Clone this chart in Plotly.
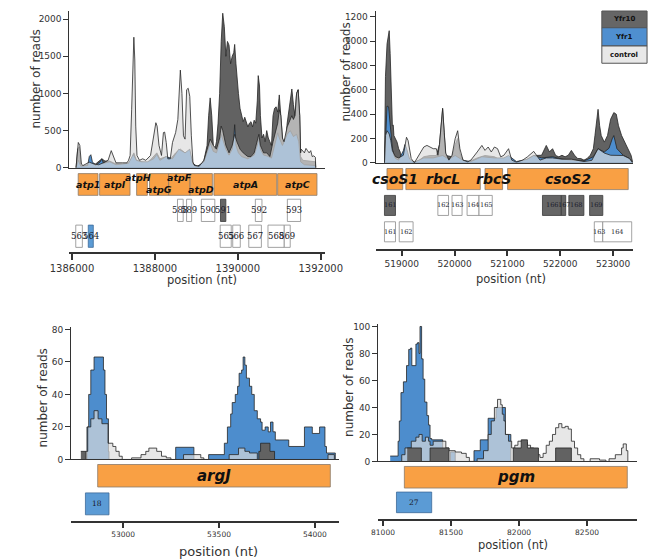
import plotly.graph_objects as go

W, H = 658, 559

# ======================= DATA =======================
# ---- Panel A (atp operon) : coverage ----
p1_ctrl_pos = [1386098,1386121,1386152,1386189,1386227,1386265,1386417,1386530,1386644,1386795,1386871,1386947,1387023,1387061,1387212,1387326,1387364,1387402,1387439,1387492,1387515,1387538,1387568,1387629,1387705,1387780,1387894,1387970,1388023,1388053,1388099,1388159,1388205,1388235,1388273,1388311,1388371,1388424,1388500,1388553,1388591,1388614,1388652,1388689,1388727,1388765,1388803,1388841,1388879,1388917,1388955,1389068,1389182,1389258,1389333,1389409,1389485,1389561,1389599,1389636,1389712,1389788,1389864,1389924,1389977,1390053,1390129,1390242,1390318,1390394,1390470,1390508,1390545,1390621,1390697,1390773,1390849,1390924,1390962,1391000,1391038,1391076,1391114,1391190,1391265,1391303,1391341,1391379,1391417,1391455,1391493,1391515,1391530,1391606,1391644,1391682,1391720,1391758,1391795,1391833,1391871,1391879]
p1_ctrl_val = [0,200,340,300,50,30,75,50,40,75,100,230,120,66,66,66,100,165,780,1757,1450,560,165,100,120,100,165,430,606,560,300,165,473,480,340,120,120,340,473,650,1000,1314,1000,430,385,1050,1070,960,430,75,30,20,100,250,385,300,250,400,560,500,300,200,300,450,350,250,200,150,150,200,350,450,300,200,200,150,350,500,600,780,700,400,350,550,650,700,650,700,1000,1050,700,200,250,200,260,230,200,230,150,160,140,0]

p1_y10_pos = [1386098,1386136,1386174,1386212,1386265,1386455,1386568,1386720,1386795,1386909,1387023,1387212,1387364,1387439,1387492,1387553,1387818,1387970,1388046,1388121,1388273,1388349,1388500,1388614,1388727,1388841,1388917,1388992,1389106,1389182,1389258,1389296,1389333,1389371,1389409,1389447,1389485,1389523,1389561,1389599,1389636,1389674,1389712,1389750,1389788,1389826,1389864,1389902,1389924,1389955,1389977,1390015,1390053,1390091,1390129,1390167,1390205,1390242,1390280,1390318,1390356,1390394,1390432,1390470,1390492,1390523,1390545,1390583,1390621,1390659,1390697,1390735,1390773,1390811,1390849,1390886,1390924,1390962,1391000,1391038,1391076,1391114,1391152,1391190,1391227,1391265,1391303,1391341,1391379,1391417,1391455,1391493,1391515,1391568,1391871,1391879]
p1_y10_val = [0,250,280,50,20,60,50,120,90,90,60,50,60,120,200,100,60,150,200,120,150,100,200,250,200,200,60,20,30,100,300,700,940,700,300,250,350,600,1000,1700,2080,1900,1500,1700,1650,1400,1500,1550,1660,1400,1200,1000,800,700,620,680,620,550,600,620,550,640,600,900,1240,1100,700,400,450,350,500,400,350,300,700,800,820,750,980,700,400,300,350,600,750,900,1060,850,700,1000,1050,700,150,100,80,0]

p1_y1_pos = [1386098,1386152,1386212,1386379,1386417,1386455,1386492,1386568,1386682,1386720,1386758,1386909,1387061,1387364,1387477,1387553,1387667,1387818,1387970,1388046,1388121,1388273,1388424,1388576,1388727,1388841,1388917,1389030,1389182,1389296,1389333,1389409,1389485,1389561,1389599,1389636,1389712,1389788,1389864,1389902,1389924,1389955,1390015,1390091,1390242,1390394,1390470,1390508,1390545,1390621,1390697,1390811,1390924,1390962,1391000,1391076,1391190,1391265,1391341,1391417,1391470,1391515,1391606,1391871,1391879]
p1_y1_val = [0,100,20,30,150,175,80,30,80,120,60,80,40,60,180,100,80,80,120,180,100,150,120,250,200,250,50,20,80,250,330,220,200,350,450,380,250,170,250,400,580,300,200,150,120,170,300,400,250,170,160,130,420,470,400,300,450,500,420,450,350,80,40,30,0]

# ---- Panel A : annotation tracks ----
p1_gene_names = ["atp1", "atpI", "atpH", "atpG", "atpF", "atpD", "atpA", "atpC"]
p1_gene_start = [1386150, 1386666, 1387559, 1387870, 1388332, 1388848, 1389423, 1390961]
p1_gene_end   = [1386627, 1387400, 1387818, 1388332, 1388848, 1389386, 1390939, 1391909]
p1_peak_names = ["588", "589", "590", "591", "592", "593", "563", "564", "565", "566", "567", "568", "569"]
p1_peak_start = [1388545, 1388764, 1389120, 1389582, 1390423, 1391195, 1386091, 1386393, 1389575, 1389877, 1390264, 1390727, 1391120]
p1_peak_end   = [1388682, 1388886, 1389445, 1389711, 1390582, 1391514, 1386250, 1386514, 1389841, 1390059, 1390568, 1391120, 1391264]
p1_peak_row   = [1, 1, 1, 1, 1, 1, 2, 2, 2, 2, 2, 2, 2]
p1_peak_kind  = ["", "", "", "Yfr10", "", "", "", "Yfr1", "", "", "", "", ""]

# ---- Panel B (carboxysome) : coverage ----
p2_ctrl_pos = [518673,518691,518721,518762,518792,518822,518881,518941,519030,519059,519089,519119,519149,519178,519238,519327,519416,519476,519535,519595,519654,519684,519713,519773,519803,519832,519892,519951,520011,520058,520100,520159,520248,520308,520427,520516,520575,520635,520694,520754,520813,520873,520932,520992,521021,521081,521170,521289,521378,521497,521556,521616,521735,521854,522032,522210,522448,522597,522715,522834,522953,523072,523191,523310,523369]
p2_ctrl_val = [0,224,264,237,183,100,50,40,62,143,210,183,89,35,0,60,130,143,130,116,116,62,150,450,250,80,22,62,200,264,116,22,8,22,89,143,102,130,89,130,116,49,62,100,116,22,5,22,49,94,62,22,40,40,30,30,10,20,116,80,62,62,60,35,0]

p2_y10_pos = [518673,518691,518721,518762,518780,518792,518810,518822,518839,518851,518881,518911,518941,518970,518988,519000,519059,519119,519238,519327,519416,519535,519654,519713,519773,519803,519832,519951,520011,520058,520100,520159,520248,520427,520575,520754,520873,520992,521081,521170,521289,521497,521646,521735,521794,521854,521913,521973,522032,522091,522151,522210,522270,522329,522389,522448,522507,522567,522626,522656,522715,522745,522775,522834,522894,522953,523013,523060,523102,523161,523221,523280,523340,523369]
p2_y10_val = [0,709,979,1087,900,709,494,305,310,224,197,170,116,89,35,22,40,20,5,20,50,60,60,150,440,250,60,50,150,200,80,20,5,40,60,50,20,30,10,0,10,60,62,143,90,116,60,49,62,49,62,102,62,35,35,22,35,62,116,224,440,305,224,170,224,359,413,400,305,224,170,116,62,8]

p2_y1_pos = [518673,518703,518721,518750,518774,518792,518822,518851,518881,518941,518970,519030,519059,519089,519149,519238,519416,519595,519773,519892,520011,520159,520308,520516,520754,520932,521021,521170,521378,521497,521646,521854,522032,522270,522448,522626,522715,522834,522923,522983,523013,523072,523191,523310,523369]
p2_y1_val = [0,386,467,460,359,250,116,62,35,22,49,100,150,120,30,5,40,40,60,30,60,20,10,50,40,40,60,10,30,60,40,50,30,20,15,50,116,89,120,197,224,116,62,35,5]

# ---- Panel B : annotation tracks ----
p2_gene_names = ["csoS1", "rbcL", "rbcS", "csoS2"]
p2_gene_start = [518720, 519077, 520575, 521003]
p2_gene_end   = [519018, 520486, 520908, 523286]
p2_peak_names = ["161", "162", "163", "164", "165", "166", "167", "168", "169", "161", "162", "163", "164"]
p2_peak_start = [518672, 519683, 519951, 520236, 520462, 521663, 522020, 522162, 522555, 518672, 518952, 522644, 522804]
p2_peak_end   = [518881, 519885, 520141, 520462, 520712, 522020, 522103, 522447, 522805, 518881, 519214, 522804, 523352]
p2_peak_row   = [1, 1, 1, 1, 1, 1, 1, 1, 1, 2, 2, 2, 2]
p2_peak_kind  = ["Yfr10", "", "", "", "", "Yfr10", "Yfr10", "Yfr10", "Yfr10", "", "", "", ""]

# ---- Panel C (argJ) : coverage (step profiles) ----
p3_y1_pos = [52803,52811,52820,52831,52848,52889,52897,52905,52913,52923,52926,53274,53369,53446,53528,53544,53561,53569,53585,53597,53605,53618,53626,53635,53643,53659,53671,53684,53700,53717,53725,53741,53757,53769,53782,53794,53864,53946,53987,54025,54053,54061,54107]
p3_y1_val = [0,20,40,55,63,63,55,40,25,5,0,7.5,0,3,10,20,28,35,40,45,53,55,63,58,50,45,40,30,25,23,18,20,17,23,17,12,8,20,16,20,8,4,0]
p3_ctrl_pos = [52806,52815,52831,52848,52869,52889,52921,52946,52962,52979,52995,53044,53093,53118,53134,53175,53200,53225,53249,53315,53405,53421,53553,53602,53635,53659,53700,54069,54102]
p3_ctrl_val = [5,20,25,30,25,22,10,8,5,2,0,1,3,5,7,5,2,1,0,3,1,0,3,7,5,4,0,3,0]
p3_y10_pos = [52779,52806,53708,53717,53766,53790]
p3_y10_val = [5,0,5,10,5,0]

p3_gene_names = ["argJ"]
p3_gene_start = [52867]
p3_gene_end   = [54081]
p3_peak_names = ["18"]
p3_peak_start = [52803]
p3_peak_end   = [52926]
p3_peak_row   = [1]
p3_peak_kind  = ["Yfr1"]

# ---- Panel D (pgm) : coverage (step profiles) ----
p4_y1_pos = [81053,81111,81120,81132,81150,81173,81189,81203,81212,81242,81254,81265,81272,81284,81295,81307,81323,81335,81346,81358,81439,81450,81496,81531,81669,81715,81773,81831,81900,81940]
p4_y1_val = [4,15,30,51,59,71,83,84,71,87,88,80,100,76,61,44,34,27,17,16,5,0,7,0,8,16,32,40,20,0]
p4_ctrl_pos = [81111,81138,81162,81208,81242,81265,81288,81312,81335,81346,81369,81462,81485,81531,81577,81612,81635,81692,81739,81773,81796,81819,81842,81866,81877,81889,81900,81923,81946,81969,81992,82039,82062,82085,82108,82131,82154,82177,82200,82223,82246,82269,82292,82315,82339,82362,82385,82408,82431,82454,82477,82523,82592,82639,82662,82708,82754,82766,82789,82800]
p4_ctrl_val = [0,5,10,15,18,20,15,18,15,12,15,10,8,7,6,3,0,2,8,20,30,40,46,42,35,30,20,15,10,12,15,14,12,10,8,5,3,6,12,15,20,25,28,25,26,24,15,10,5,2,0,2,1,0,2,5,10,13,8,0]
p4_y10_pos = [81178,81282,81346,81485,81958,82016,82062,82143,82269,82385]
p4_y10_val = [10,0,10,0,10,16,10,0,10,0]

p4_gene_names = ["pgm"]
p4_gene_start = [81157]
p4_gene_end   = [82796]
p4_peak_names = ["27"]
p4_peak_start = [81099]
p4_peak_end   = [81358]
p4_peak_row   = [1]
p4_peak_kind  = ["Yfr1"]

legend_labels = ["Yfr10", "Yfr1", "control"]

# ======================= STYLE =======================
C_Y10 = "#626262"
C_Y1 = "#4d8dcd"
C_CTRL = "rgba(219,219,219,0.68)"
LINE = "#262626"
ORANGE = "#f9a044"
AX = "#333333"
FONT = "DejaVu Sans"

series_style = {
    "Yfr10": dict(fill=C_Y10),
    "Yfr1": dict(fill=C_Y1),
    "control": dict(fill=C_CTRL),
}
peak_fill = {"": ("white", "#8c8c8c"), "Yfr10": ("#666666", "#3a3a3a"), "Yfr1": ("#5b9bd5", "#3c6a98")}

panels = [
    dict(xdom=(44, 315), xr=(1385939, 1392098), dtick=2000, tickfs=10,
         cov_dom=(0, 159), cov_max=2110, ydtick=500,
         trk_dom=(160, 245), row0=176, step=26.25, ghalf=0.42, phalf=0.43,
         gfs=9.5, pfs=8.5, shape="linear",
         series=[("Yfr10", p1_y10_pos, p1_y10_val), ("Yfr1", p1_y1_pos, p1_y1_val), ("control", p1_ctrl_pos, p1_ctrl_val)],
         genes=(p1_gene_names, p1_gene_start, p1_gene_end),
         peaks=(p1_peak_names, p1_peak_start, p1_peak_end, p1_peak_row, p1_peak_kind),
         ytitle=(8, 69), xtitle=(185, 273), xtfs=11.5),
    dict(xdom=(369, 642), xr=(518506, 523375), dtick=1000, tickfs=9,
         cov_dom=(0, 154), cov_max=1249, ydtick=200,
         trk_dom=(156, 241), row0=170.5, step=26.75, ghalf=0.40, phalf=0.38,
         gfs=14, pfs=6.5, shape="linear",
         series=[("Yfr10", p2_y10_pos, p2_y10_val), ("Yfr1", p2_y1_pos, p2_y1_val), ("control", p2_ctrl_pos, p2_ctrl_val)],
         genes=(p2_gene_names, p2_gene_start, p2_gene_end),
         peaks=(p2_peak_names, p2_peak_start, p2_peak_end, p2_peak_row, p2_peak_kind),
         ytitle=(338, 62), xtitle=(513, 272), xtfs=11.5),
    dict(xdom=(45.7, 330), xr=(52728, 54126), dtick=500, tickfs=7.5,
         cov_dom=(321, 455), cov_max=81.2, ydtick=20,
         trk_dom=(456, 517), row0=471.5, step=28.5, ghalf=0.40, phalf=0.39,
         gfs=15, pfs=7.5, shape="hv",
         series=[("Yfr1", p3_y1_pos, p3_y1_val), ("control", p3_ctrl_pos, p3_ctrl_val), ("Yfr10", p3_y10_pos, p3_y10_val)],
         genes=(p3_gene_names, p3_gene_start, p3_gene_end),
         peaks=(p3_peak_names, p3_peak_start, p3_peak_end, p3_peak_row, p3_peak_kind),
         ytitle=(16, 393), xtitle=(202, 548), xtfs=13),
    dict(xdom=(371.7, 646.7), xr=(80965, 82870), dtick=500, tickfs=7.5,
         cov_dom=(318, 457), cov_max=101.5, ydtick=20,
         trk_dom=(458, 515), row0=473, step=25.5, ghalf=0.43, phalf=0.41,
         gfs=15, pfs=7.5, shape="hv",
         series=[("Yfr1", p4_y1_pos, p4_y1_val), ("control", p4_ctrl_pos, p4_ctrl_val), ("Yfr10", p4_y10_pos, p4_y10_val)],
         genes=(p4_gene_names, p4_gene_start, p4_gene_end),
         peaks=(p4_peak_names, p4_peak_start, p4_peak_end, p4_peak_row, p4_peak_kind),
         ytitle=(340, 382), xtitle=(515, 542), xtfs=11.5),
]

# label offsets (px) for crowded panel A gene labels
gene_label_shift = {"atpH": (-4, -7), "atpG": (0, 5), "atpF": (0, -7), "atpD": (0, 5)}


def ax_name(n, letter):
    return letter if n == 1 else f"{letter}{n}"


fig = go.Figure()
layout = dict(width=W, height=H, margin=dict(l=0, r=0, t=0, b=0),
              paper_bgcolor="white", plot_bgcolor="white", showlegend=False,
              font=dict(family=FONT, color=AX))
shapes, annotations = [], []

for i, p in enumerate(panels):
    nt = 2 * i + 1   # track axes
    nc = 2 * i + 2   # coverage axes
    xt, yt, xc, yc = ax_name(nt, "x"), ax_name(nt, "y"), ax_name(nc, "x"), ax_name(nc, "y")
    xdom = [p["xdom"][0] / W, p["xdom"][1] / W]
    layout["xaxis" if nt == 1 else f"xaxis{nt}"] = dict(
        domain=xdom, range=list(p["xr"]), anchor=yt, showgrid=False, zeroline=False,
        showline=True, linecolor=AX, linewidth=1.5, ticks="outside", ticklen=6,
        tickcolor=AX, tickwidth=1.5, dtick=p["dtick"], tickformat="d",
        tickfont=dict(size=p["tickfs"], family=FONT, color=AX))
    r_top = (p["trk_dom"][0] - p["row0"]) / p["step"]
    r_bot = (p["trk_dom"][1] - p["row0"]) / p["step"]
    layout["yaxis" if nt == 1 else f"yaxis{nt}"] = dict(
        domain=[1 - p["trk_dom"][1] / H, 1 - p["trk_dom"][0] / H], range=[r_bot, r_top],
        anchor=xt, visible=False)
    layout[f"xaxis{nc}"] = dict(domain=xdom, matches=xt, anchor=yc, showgrid=False, zeroline=False,
                                showline=True, linecolor=AX, linewidth=1.2, ticks="", showticklabels=False)
    layout[f"yaxis{nc}"] = dict(domain=[1 - p["cov_dom"][1] / H, 1 - p["cov_dom"][0] / H],
                                range=[0, p["cov_max"]], anchor=xc, showgrid=False, zeroline=False,
                                showline=True, linecolor=AX, linewidth=1.2, ticks="outside", ticklen=5,
                                tickcolor=AX, dtick=p["ydtick"], tickfont=dict(size=9, family=FONT, color=AX))
    for name, pos, val in p["series"]:
        fig.add_trace(go.Scatter(x=pos, y=val, xaxis=xc, yaxis=yc, mode="lines", fill="tozeroy",
                                 fillcolor=series_style[name]["fill"],
                                 line=dict(color=LINE, width=0.8, shape=p["shape"]),
                                 name=name, hoverinfo="skip"))
    names, gs, ge = p["genes"]
    for g, s, e in zip(names, gs, ge):
        shapes.append(dict(type="rect", xref=xt, yref=yt, x0=s, x1=e, y0=-p["ghalf"], y1=p["ghalf"],
                           fillcolor=ORANGE, line=dict(color="#8a7a6a", width=0.8), layer="above"))
        dx, dy = gene_label_shift.get(g, (0, 0))
        annotations.append(dict(xref=xt, yref=yt, x=(s + e) / 2, y=0, text=f"<b><i>{g}</i></b>",
                                showarrow=False, xshift=dx, yshift=-dy, xanchor="center", yanchor="middle",
                                font=dict(size=p["gfs"], family=FONT, color="#111")))
    pn, ps, pe, pr, pk = p["peaks"]
    for lab, s, e, r, k in zip(pn, ps, pe, pr, pk):
        fc, lc = peak_fill[k]
        shapes.append(dict(type="rect", xref=xt, yref=yt, x0=s, x1=e, y0=r - p["phalf"], y1=r + p["phalf"],
                           fillcolor=fc, line=dict(color=lc, width=0.8), layer="above"))
        annotations.append(dict(xref=xt, yref=yt, x=(s + e) / 2, y=r, text=lab, showarrow=False,
                                xanchor="center", yanchor="middle",
                                font=dict(size=p["pfs"], family="DejaVu Serif", color="#1a1a2a")))
    tx, ty = p["ytitle"]
    annotations.append(dict(xref="paper", yref="paper", x=tx / W, y=1 - ty / H, text="number of reads",
                            textangle=-90, showarrow=False, xanchor="center", yanchor="middle",
                            font=dict(size=12, family=FONT, color=AX)))
    tx, ty = p["xtitle"]
    annotations.append(dict(xref="paper", yref="paper", x=tx / W, y=1 - ty / H, text="position (nt)",
                            showarrow=False, xanchor="center", yanchor="middle",
                            font=dict(size=p["xtfs"], family=FONT, color=AX)))

leg_fill = ["#666666", "#4f8fd0", "#e8e8e8"]
leg_rows = [(0, 17), (17, 35.5), (35.5, 53)]
for lab, fc, (t, b) in zip(legend_labels, leg_fill, leg_rows):
    shapes.append(dict(type="rect", xref="paper", yref="paper", x0=609 / W, x1=657 / W,
                       y0=1 - b / H, y1=1 - t / H, fillcolor=fc, line=dict(color="#555", width=1)))
    annotations.append(dict(xref="paper", yref="paper", x=633 / W, y=1 - (t + b) / 2 / H,
                            text=f"<b>{lab}</b>", showarrow=False, xanchor="center", yanchor="middle",
                            font=dict(size=7, family=FONT, color="#111")))

layout["shapes"] = shapes
layout["annotations"] = annotations
fig.update_layout(**layout)
fig.write_html("out.html")
